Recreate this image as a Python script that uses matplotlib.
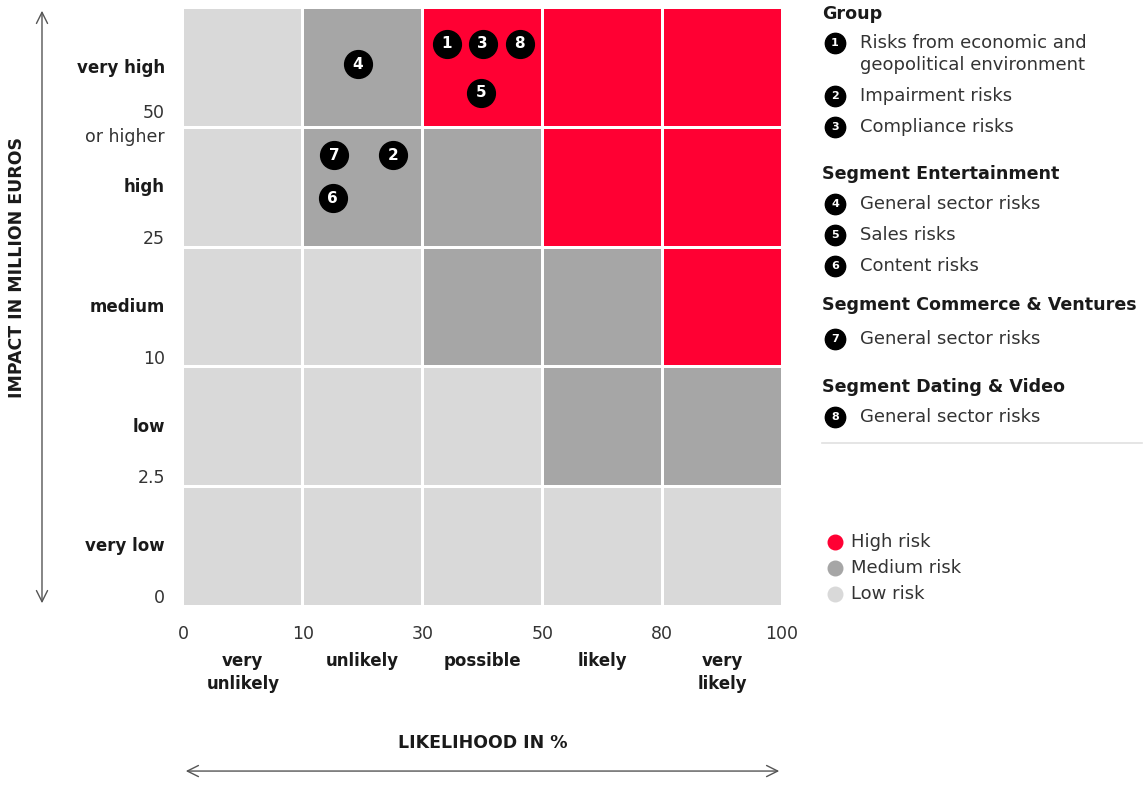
import matplotlib
matplotlib.use("Agg")
import matplotlib.pyplot as plt
from matplotlib.patches import Rectangle

plt.rcParams["font.family"] = "DejaVu Sans"

# ---- data ----
likelihood_edges = ["0", "10", "30", "50", "80", "100"]
likelihood_cats = ["very\nunlikely", "unlikely", "possible", "likely", "very\nlikely"]
impact_edges = ["0", "2.5", "10", "25", "50\nor higher"]
impact_cats = ["very low", "low", "medium", "high", "very high"]  # bottom -> top

# risk level per cell, rows bottom (very low) -> top (very high), cols left -> right
# 0 = low, 1 = medium, 2 = high
risk_matrix = [
    [0, 0, 0, 0, 0],
    [0, 0, 0, 1, 1],
    [0, 0, 1, 1, 2],
    [0, 1, 1, 2, 2],
    [0, 1, 2, 2, 2],
]

# risk positions in grid units (x = likelihood bin, y = impact bin)
risk_ids = [1, 2, 3, 4, 5, 6, 7, 8]
risk_x = [2.20, 1.75, 2.50, 1.46, 2.49, 1.25, 1.26, 2.81]
risk_y = [4.70, 3.77, 4.70, 4.53, 4.29, 3.41, 3.77, 4.70]

legend_groups = [
    ("Group", [(1, "Risks from economic and\ngeopolitical environment"),
               (2, "Impairment risks"),
               (3, "Compliance risks")]),
    ("Segment Entertainment", [(4, "General sector risks"),
                               (5, "Sales risks"),
                               (6, "Content risks")]),
    ("Segment Commerce & Ventures", [(7, "General sector risks")]),
    ("Segment Dating & Video", [(8, "General sector risks")]),
]
level_names = ["High risk", "Medium risk", "Low risk"]

colors = ["#d9d9d9", "#a6a6a6", "#ff0033"]
txt = "#1a1a1a"
num_col = "#333333"

W, H = 1145, 785
fig = plt.figure(figsize=(W / 100, H / 100), dpi=100)

# ---- matrix ----
ax = fig.add_axes([183 / W, (H - 606) / H, 599 / W, 598 / H])
ax.set_xlim(0, 5)
ax.set_ylim(0, 5)
ax.axis("off")

g = 0.011
for r, row in enumerate(risk_matrix):
    for c, lvl in enumerate(row):
        ax.add_patch(Rectangle((c + g, r + g), 1 - 2 * g, 1 - 2 * g,
                               facecolor=colors[lvl], edgecolor="none"))

ax.scatter(risk_x, risk_y, s=400, color="black", zorder=3)
for i, x, y in zip(risk_ids, risk_x, risk_y):
    ax.text(x, y, str(i), color="white", fontsize=11, fontweight="bold",
            ha="center", va="center", zorder=4)

# x axis labels
for k, lab in enumerate(likelihood_edges):
    ax.text(k, -0.235, lab, ha="center", va="center", fontsize=12.5,
            color=num_col, clip_on=False)
for k, lab in enumerate(likelihood_cats):
    ax.text(k + 0.5, -0.385, lab, ha="center", va="top", fontsize=12,
            fontweight="bold", color=txt, linespacing=1.35, clip_on=False)
ax.text(2.5, -1.145, "LIKELIHOOD IN %", ha="center", va="center",
        fontsize=12.5, fontweight="bold", color=txt, clip_on=False)
ax.annotate("", xy=(0, -1.38), xytext=(5, -1.38),
            arrowprops=dict(arrowstyle="<->,head_length=0.8,head_width=0.4",
                            color="#555555", lw=1), annotation_clip=False)

# y axis labels
for k, lab in enumerate(impact_edges):
    off = 0.02 if "\n" in lab else 0.067
    ax.text(-0.15, k + off, lab, ha="right", va="center", fontsize=12.5,
            color=num_col, multialignment="right", linespacing=1.45,
            clip_on=False)
for k, lab in enumerate(impact_cats):
    ax.text(-0.15, k + 0.5, lab, ha="right", va="center", fontsize=12,
            fontweight="bold", color=txt, clip_on=False)
ax.text(-1.386, 2.83, "IMPACT IN MILLION EUROS", rotation=90, ha="center",
        va="center", fontsize=12.5, fontweight="bold", color=txt, clip_on=False)
ax.annotate("", xy=(-1.177, 5), xytext=(-1.177, 0),
            arrowprops=dict(arrowstyle="<->,head_length=0.8,head_width=0.4",
                            color="#555555", lw=1), annotation_clip=False)

# ---- legend (pixel coordinates overlay) ----
lx = fig.add_axes([0, 0, 1, 1], zorder=5)
lx.set_xlim(0, W)
lx.set_ylim(H, 0)
lx.axis("off")
lx.patch.set_alpha(0)

head_y = [14, 174, 305, 387]
item_y = [[43, 96, 127], [204, 235, 266], [339], [417]]
for (title, items), hy, iys in zip(legend_groups, head_y, item_y):
    lx.text(822, hy, title, ha="left", va="center", fontsize=12.6,
            fontweight="bold", color=txt)
    for (n, lab), iy in zip(items, iys):
        lx.scatter([835], [iy], s=215, color="black")
        lx.text(835, iy, str(n), color="white", fontsize=8, fontweight="bold",
                ha="center", va="center")
        lx.text(860, iy - 9, lab, ha="left", va="top", fontsize=13,
                color=num_col, linespacing=1.25)
lx.plot([822, 1142], [443, 443], color="#e0e0e0", lw=1.2)

for lab, col, yy in zip(level_names, colors[::-1], [542, 568, 594]):
    lx.scatter([835], [yy], s=110, color=col)
    lx.text(851, yy, lab, ha="left", va="center", fontsize=13, color=num_col)

fig.savefig("out.png", dpi=100, facecolor="white")
